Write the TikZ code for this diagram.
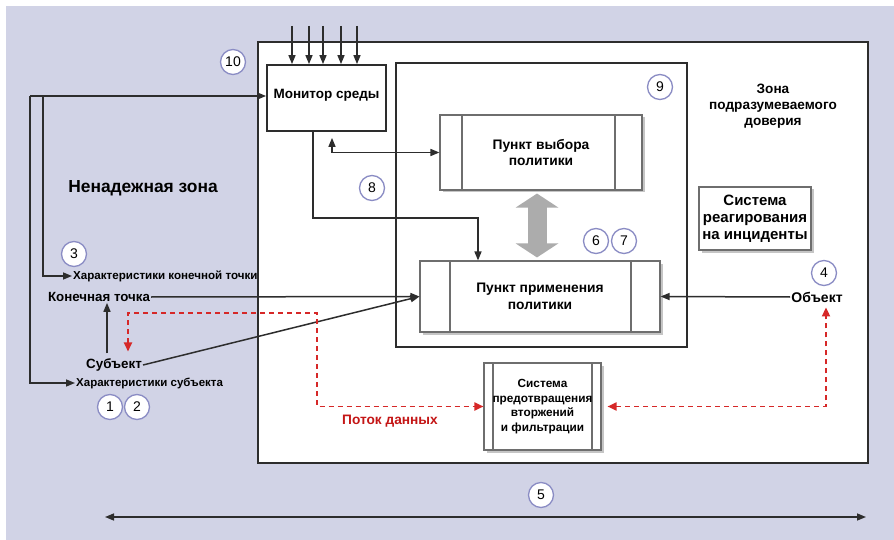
\documentclass[tikz,border=0pt]{standalone}
\usepackage{fontspec}
\setmainfont{Liberation Sans}
\usetikzlibrary{arrows.meta,shadows}

\definecolor{zonebg}{RGB}{209,211,230}
\definecolor{ringcol}{RGB}{138,140,196}
\definecolor{flowred}{RGB}{214,40,40}
\definecolor{lblred}{RGB}{196,22,22}
\definecolor{linecol}{RGB}{45,45,45}
\definecolor{boxgray}{RGB}{110,110,110}
\definecolor{bigarr}{RGB}{172,172,172}

\tikzset{
  num/.style={circle,draw=ringcol,line width=1.3,fill=white,minimum size=25,inner sep=0,
    font=\fontsize{14}{14}\selectfont},
  txt/.style={font=\bfseries\fontsize{#1}{#1}\selectfont,inner sep=1},
  zone/.style={draw=linecol,line width=2},
  monbox/.style={draw=linecol,line width=1.8,fill=white,minimum width=119,minimum height=66,
    text height=10pt,text depth=9pt,font=\bfseries\fontsize{13.5}{15}\selectfont},
  procbox/.style n args={4}{draw=boxgray,line width=1.1,fill=white,minimum width=#1,minimum height=#2,
    align=center,font=\bfseries\fontsize{13.8}{16.5}\selectfont,
    drop shadow={shadow xshift=2.5pt,shadow yshift=-2.5pt,opacity=.45},
    path picture={\draw[boxgray,line width=1.1]
      ([xshift=#3]path picture bounding box.north west) -- ([xshift=#3]path picture bounding box.south west)
      ([xshift=-#4]path picture bounding box.north east) -- ([xshift=-#4]path picture bounding box.south east);}},
  incbox/.style={draw=boxgray,line width=1.1,fill=white,minimum width=112,minimum height=63,align=center,
    inner sep=1,font=\bfseries\fontsize{15}{17}\selectfont,
    drop shadow={shadow xshift=2.5pt,shadow yshift=-2.5pt,opacity=.45}},
  conn/.style={draw=linecol,line width=1.5,-{Triangle[length=9pt,width=7pt]}},
  biconn/.style={draw=linecol,line width=1.5,{Triangle[length=9pt,width=7pt]}-{Triangle[length=9pt,width=7pt]}},
  flow/.style={draw=flowred,line width=1.8,dash pattern=on 5pt off 4pt,
    {Triangle[length=9pt,width=8pt]}-{Triangle[length=9pt,width=8pt]}},
}

\begin{document}
\begin{tikzpicture}[x=1pt,y=1pt,yscale=-1]
\useasboundingbox (0,0) rectangle (894,540);
\fill[zonebg] (6,6) rectangle (894,540);

% zones
\node[zone,fill=white,minimum width=610,minimum height=421] (trust) at (563,252.5) {};
\node[zone,minimum width=291,minimum height=284] (policy) at (541.5,205) {};

% boxes
\node[monbox] (monitor) at (326.5,98) {Монитор среды};
\node[procbox={202}{75}{22}{27}] (pdp) at (541,152.5) {Пункт выбора\\политики};
\node[procbox={240}{71}{30}{29}] (pep) at (540,296.5) {Пункт применения\\политики};
\node[procbox={117}{87}{9}{9},font=\bfseries\fontsize{11.8}{14.5}\selectfont] (ips) at (542.5,406.5)
  {Система\\предотвращения\\вторжений\\и фильтрации};
\node[incbox] (irs) at (755,218.5) {Система\\реагирования\\на инциденты};

% labels
\node[txt=17.4] (untrust) at (143,188) {Ненадежная зона};
\node[align=center,font=\bfseries\fontsize{13.6}{15.8}\selectfont] (trustlbl) at (773,106)
  {Зона\\подразумеваемого\\доверия};
\node[txt=11.6,anchor=west] (epattr) at (72,276) {Характеристики конечной точки};
\node[txt=13.3] (ep) at (99,297) {Конечная точка};
\node[txt=13.4] (subj) at (114,365) {Субъект};
\node[txt=11.5,anchor=west] (subjattr) at (75,383) {Характеристики субъекта};
\node[txt=14] (obj) at (817,297) {Объект};
\node[txt=13.7,text=lblred] (flowlbl) at (390,421) {Поток данных};

% numbers
\node[num] (n10) at (233,62) {10};
\node[num] (n3) at (74,254) {3};
\node[num] (n1) at (110,407) {1};
\node[num] (n2) at (137,407) {2};
\node[num] (n8) at (372,188) {8};
\node[num] (n9) at (660,87) {9};
\node[num] (n6) at (596,241) {6};
\node[num] (n7) at (624,241) {7};
\node[num] (n4) at (824,273) {4};
\node[num] (n5) at (541,495) {5};

% inputs of the monitor
\foreach \x in {292,309,323,341,357}
  \draw[conn] (\x,26) -- (\x,26 |- monitor.north);

% feedback loops
\coordinate (loopo) at (30,96);
\coordinate (loopi) at (43,96);
\draw[conn] (loopo) -- (loopo -| monitor.west);
\draw[conn] (loopo) |- (subjattr.west);
\draw[conn] (loopi) |- (epattr.west);

% requests
\draw[conn,shorten <=4] ([xshift=-7]subj.north) -- ([xshift=-7]subj.north |- ep.south);
\draw[conn] (ep.east) -- (pep.west);
\draw[conn] (subj.east) -- (pep.west);
\draw[conn] (obj.west) -- (pep.east);

% monitor links
\coordinate (monbend) at (478,218);
\draw[conn] ([xshift=-13.5]monitor.south) |- (monbend) -- (monbend |- pep.north);
\draw[biconn,shorten <=6] ([xshift=5.5]monitor.south) |- (pdp.west);

% decision <-> enforcement
\draw[bigarr,line width=19,{Triangle[width=42pt,length=14pt]}-{Triangle[width=42pt,length=14pt]},
  shorten <=3,shorten >=3] ([xshift=-4]pdp.south) -- ([xshift=-4]pdp.south |- pep.north);

% data flow
\coordinate (flowbend) at (317,313);
\draw[flow,shorten <=6] ([xshift=14]subj.north) |- (flowbend) |- (ips.west);
\draw[flow,shorten <=6,shorten >=4] (ips.east) -| ([xshift=9]obj.south);

% span
\coordinate (spanl) at (105,517);
\coordinate (spanr) at (866,517);
\draw[biconn] (spanl) -- (spanr);
\end{tikzpicture}
\end{document}
